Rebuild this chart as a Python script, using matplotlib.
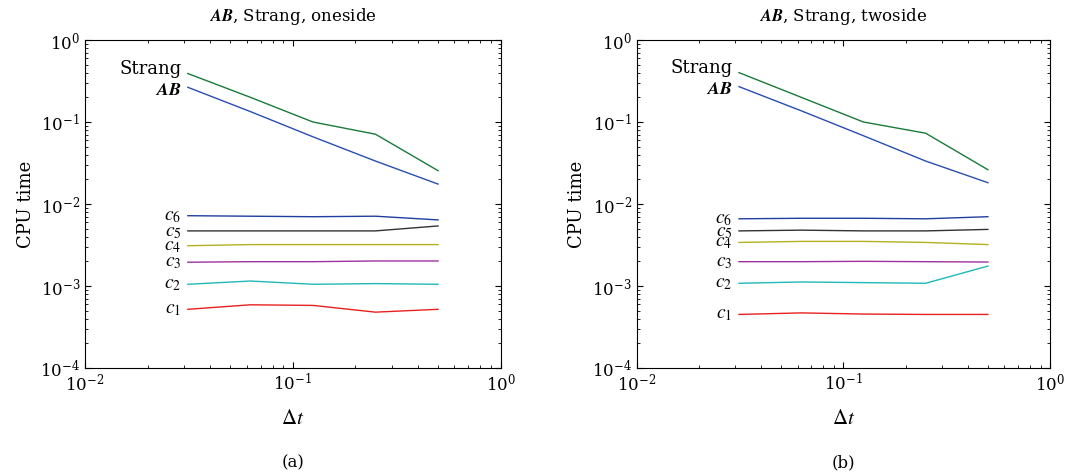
import matplotlib.pyplot as plt

plt.rcParams['font.family'] = ['DejaVu Serif']
plt.rcParams['mathtext.fontset'] = 'stix'

# time steps
dt = [1/32, 1/16, 1/8, 1/4, 1/2]

# (a) oneside
a_strang = [0.39, 0.20, 0.10, 0.071, 0.0255]
a_ab = [0.265, 0.134, 0.066, 0.0334, 0.0175]
a_c6 = [0.0072, 0.0071, 0.0070, 0.0071, 0.0064]
a_c5 = [0.0047, 0.0047, 0.0047, 0.0047, 0.0054]
a_c4 = [0.0031, 0.0032, 0.0032, 0.0032, 0.0032]
a_c3 = [0.00195, 0.00198, 0.00198, 0.00202, 0.00202]
a_c2 = [0.00105, 0.00115, 0.00105, 0.00107, 0.00105]
a_c1 = [0.00052, 0.00059, 0.00058, 0.00048, 0.00052]

# (b) twoside
b_strang = [0.40, 0.20, 0.10, 0.073, 0.0262]
b_ab = [0.27, 0.137, 0.068, 0.0334, 0.0182]
b_c6 = [0.0066, 0.0067, 0.0067, 0.0066, 0.0070]
b_c5 = [0.0047, 0.0048, 0.0047, 0.0047, 0.0049]
b_c4 = [0.0034, 0.0035, 0.0035, 0.0034, 0.0032]
b_c3 = [0.00198, 0.00198, 0.00200, 0.00198, 0.00196]
b_c2 = [0.00108, 0.00112, 0.00110, 0.00108, 0.00175]
b_c1 = [0.00045, 0.00047, 0.000455, 0.00045, 0.00045]

colors = {'strang': '#1a7a3a', 'ab': '#2a4db0', 'c6': '#1f3fa0', 'c5': '#333333',
          'c4': '#b5b020', 'c3': '#a030a0', 'c2': '#20b8b8', 'c1': '#e82020'}


def draw(ax, data, title, letter):
    names = ['strang', 'ab', 'c6', 'c5', 'c4', 'c3', 'c2', 'c1']
    labels = {'strang': 'Strang', 'ab': r'$\boldsymbol{AB}$', 'c6': '$c_6$', 'c5': '$c_5$',
              'c4': '$c_4$', 'c3': '$c_3$', 'c2': '$c_2$', 'c1': '$c_1$'}
    for n in names:
        ax.plot(dt, data[n], color=colors[n], lw=1.0)
        y0 = data[n][0]
        if n == 'strang':
            y0 = y0 * 1.15
        if n == 'ab':
            y0 = y0 * 0.93
        if n == 'c5':
            y0 = y0 * 0.97
        fs = 13 if n in ('strang', 'ab') else 14
        ax.text(dt[0] * 0.93, y0, labels[n], ha='right', va='center', fontsize=fs,
                family='DejaVu Serif')
    ax.set_xscale('log')
    ax.set_yscale('log')
    ax.set_xlim(1e-2, 1)
    ax.set_ylim(1e-4, 1)
    ax.tick_params(which='both', direction='in', top=True, right=True, labelsize=12)
    ax.tick_params(which='major', length=4)
    ax.tick_params(which='minor', length=2)
    ax.set_title(r'$\boldsymbol{AB}$, Strang, ' + title, fontsize=12, pad=14)
    ax.set_xlabel(r'$\Delta t$', fontsize=15, labelpad=10)
    ax.set_ylabel('CPU time', fontsize=13)
    ax.text(0.5, -0.29, letter, transform=ax.transAxes, ha='center', va='center',
            fontsize=12)


fig = plt.figure(figsize=(10.71, 4.74), dpi=100)
ax1 = fig.add_axes([0.0794, 0.2236, 0.388, 0.692])
ax2 = fig.add_axes([0.5945, 0.2236, 0.386, 0.692])

draw(ax1, {'strang': a_strang, 'ab': a_ab, 'c6': a_c6, 'c5': a_c5, 'c4': a_c4,
           'c3': a_c3, 'c2': a_c2, 'c1': a_c1}, 'oneside', '(a)')
draw(ax2, {'strang': b_strang, 'ab': b_ab, 'c6': b_c6, 'c5': b_c5, 'c4': b_c4,
           'c3': b_c3, 'c2': b_c2, 'c1': b_c1}, 'twoside', '(b)')

fig.savefig('out.png', dpi=100)
